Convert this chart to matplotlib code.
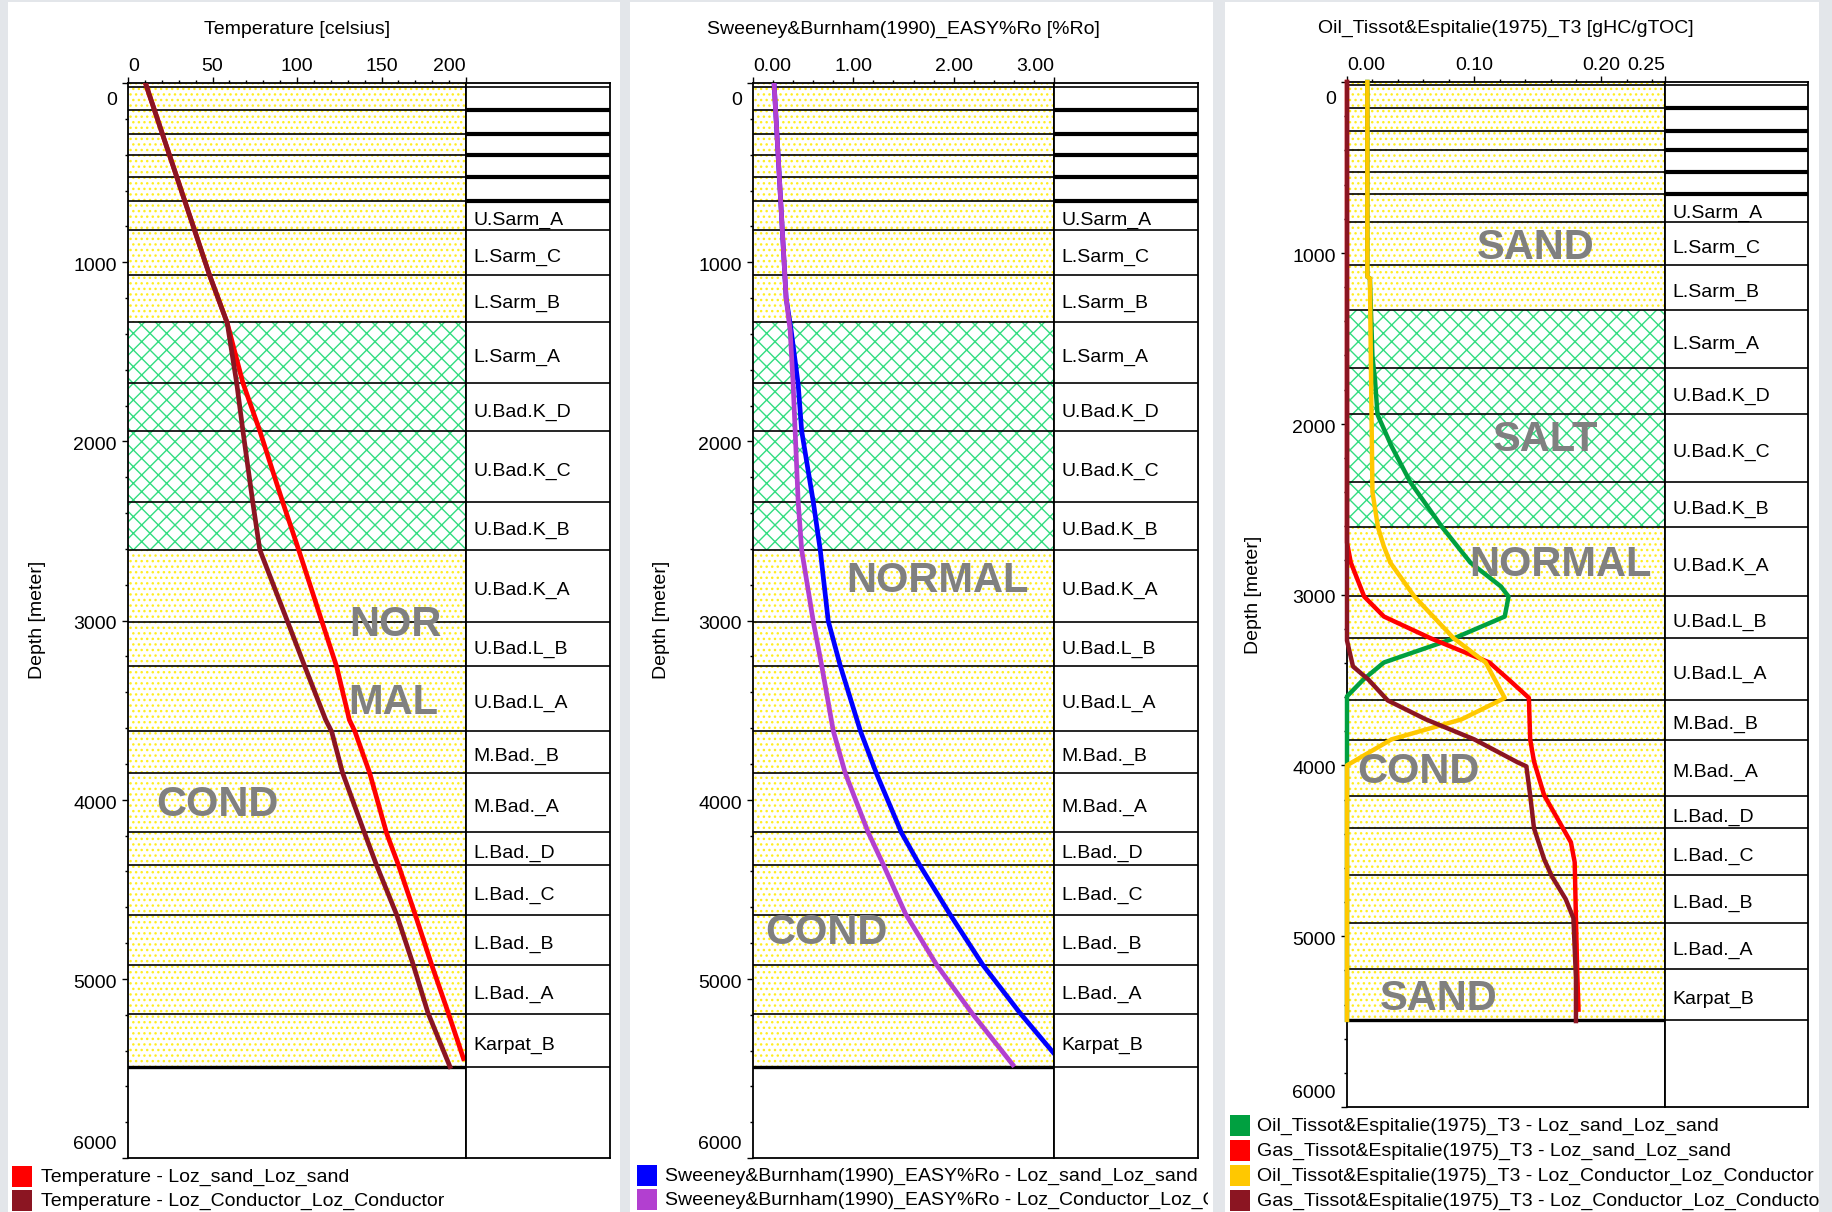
import matplotlib
matplotlib.use('Agg')
import matplotlib.pyplot as plt
from matplotlib.patches import Rectangle
from matplotlib.transforms import Bbox, TransformedBbox

plt.rcParams['font.family'] = ['Liberation Sans', 'DejaVu Sans']
plt.rcParams['hatch.linewidth'] = 1.0

# ---- formations (depth in m) ----
tops = [0, 20, 150, 285, 400, 525, 658, 820, 1071, 1335, 1676, 1945, 2340, 2605,
        3010, 3255, 3618, 3850, 4181, 4366, 4643, 4920, 5195]
base = 5490
names = ['', '', '', '', '', '', 'U.Sarm_A', 'L.Sarm_C', 'L.Sarm_B', 'L.Sarm_A',
         'U.Bad.K_D', 'U.Bad.K_C', 'U.Bad.K_B', 'U.Bad.K_A', 'U.Bad.L_B', 'U.Bad.L_A',
         'M.Bad._B', 'M.Bad._A', 'L.Bad._D', 'L.Bad._C', 'L.Bad._B', 'L.Bad._A', 'Karpat_B']
salt_top, salt_base = 1335, 2605
depth_ticks = [0, 1000, 2000, 3000, 4000, 5000, 6000]

# ---- temperature ----
temp_depth_sand = [0, 1071, 1339, 1674, 1942, 2338, 2606, 3013, 3259, 3555, 3620, 3851,
                   4187, 4364, 4643, 4922, 5190, 5445]
temp_sand = [10.3, 48.2, 58.7, 68, 78, 91.5, 101, 115, 123.5, 131, 134.3, 143,
             153, 160, 170, 179.7, 189.5, 198.5]
temp_depth_cond = [0, 1071, 1339, 1674, 1942, 2338, 2606, 3013, 3259, 3555, 3620, 3851,
                   4187, 4364, 4643, 4922, 5190, 5490]
temp_cond = [10.3, 48.2, 58.7, 64.3, 68, 73.8, 78, 94.7, 104.7, 117, 120.5, 127,
             140, 147, 159, 168.8, 177.5, 190.5]

# ---- vitrinite reflectance ----
ro_depth_sand = [0, 400, 800, 1200, 1380, 1680, 1942, 2335, 2606, 3003, 3253, 3616,
                 3853, 4185, 4364, 4637, 4922, 5190, 5410]
ro_sand = [0.21, 0.25, 0.29, 0.33, 0.38, 0.45, 0.485, 0.60, 0.67, 0.75, 0.87, 1.07,
           1.23, 1.48, 1.66, 1.96, 2.29, 2.66, 2.99]
ro_depth_cond = [0, 400, 800, 1200, 1380, 1680, 1942, 2335, 2606, 3003, 3253, 3616,
                 3853, 4185, 4364, 4637, 4922, 5190, 5480]
ro_cond = [0.21, 0.25, 0.29, 0.33, 0.37, 0.40, 0.42, 0.45, 0.485, 0.60, 0.685, 0.80,
           0.92, 1.15, 1.30, 1.52, 1.83, 2.18, 2.59]

# ---- transformation ratios ----
oil_sand_depth = [0, 1140, 1150, 1606, 1743, 1947, 2132, 2345, 2608, 2813, 2953, 3012,
                  3129, 3257, 3398, 3497, 3596, 5490]
oil_sand = [0.016, 0.016, 0.018, 0.020, 0.022, 0.024, 0.035, 0.050, 0.075, 0.097, 0.121,
            0.127, 0.124, 0.084, 0.029, 0.013, 0.0, 0.0]
gas_sand_depth = [0, 2696, 2813, 3012, 3129, 3257, 3398, 3497, 3605, 3848, 3977, 4175,
                  4450, 4567, 4900, 5211, 5430]
gas_sand = [0, 0, 0.003, 0.0135, 0.029, 0.066, 0.112, 0.127, 0.143, 0.144, 0.147, 0.155,
            0.176, 0.179, 0.180, 0.181, 0.182]
oil_cond_depth = [0, 1140, 1150, 2400, 2608, 2719, 2813, 3012, 3257, 3398, 3606, 3731,
                  3848, 4000, 5490]
oil_cond = [0.016, 0.016, 0.018, 0.020, 0.0244, 0.029, 0.034, 0.053, 0.084, 0.109, 0.124,
            0.090, 0.035, 0.0, 0.0]
gas_cond_depth = [0, 3270, 3421, 3497, 3620, 3731, 3848, 3982, 4006, 4175, 4368, 4550,
                  4649, 4784, 4895, 5248, 5497]
gas_cond = [0, 0, 0.0047, 0.0167, 0.032, 0.062, 0.100, 0.134, 0.141, 0.144, 0.147, 0.155,
            0.161, 0.172, 0.178, 0.180, 0.180]

RED, DARK = '#ff0000', '#8b1522'
BLUE, PURPLE = '#0000ff', '#b23fd0'
GREEN, YELLOW = '#00a040', '#ffc800'
GREY = '#808080'

W, H = 1832, 1212
fig = plt.figure(figsize=(W / 100, H / 100), dpi=100, facecolor='#e3e6ea')


def fx(x):
    return x / W


def fy(y):
    return 1 - y / H


# white panel backgrounds
for x0, x1 in [(8, 620), (630, 1213), (1225, 1819)]:
    fig.add_artist(Rectangle((fx(x0), 0), (x1 - x0) / W, fy(2), transform=fig.transFigure,
                             facecolor='white', edgecolor='none', zorder=-5))


def make_panel(x0, x1, x2, top, bot, xmax, xticks, xlabels, xminor, title):
    ax = fig.add_axes([fx(x0), fy(bot), (x1 - x0) / W, (bot - top) / H])
    fm = fig.add_axes([fx(x1), fy(bot), (x2 - x1) / W, (bot - top) / H])
    for a in (ax, fm):
        a.set_ylim(6000, 0)
        for s in a.spines.values():
            s.set_linewidth(1.3)
    ax.set_xlim(0, xmax)
    fm.set_xlim(0, 1)
    fm.set_xticks([])
    fm.set_yticks([])

    # lithology fill
    dots = dict(facecolor='white', edgecolor='#ffee22', hatch='...', lw=0, zorder=0)
    ax.axhspan(0, salt_top, **dots)
    ax.axhspan(salt_top, salt_base, facecolor='white', edgecolor='#33dd80', hatch='xx', lw=0, zorder=0)
    ax.axhspan(salt_base, base, **dots)

    # formation boundaries
    for i, d in enumerate(tops[1:] + [base]):
        ax.axhline(d, color='black', lw=2.4 if d == base else 1.2, zorder=1)
        thick = 2 <= i + 1 <= 6
        fm.axhline(d, color='black', lw=3.0 if thick else 1.2, zorder=1)
    for i, n in enumerate(names):
        if n:
            bottom = tops[i + 1] if i + 1 < len(tops) else base
            fm.annotate(n, xy=(0, (tops[i] + bottom) / 2), xytext=(5.5, -3.5),
                        textcoords='offset points', fontsize=14, ha='left', va='center')

    ax.xaxis.tick_top()
    ax.set_xticks(xticks, xlabels)
    ax.set_xticks(xminor, minor=True)
    ax.set_yticks(depth_ticks)
    ax.set_yticks(range(0, 6001, 200), minor=True)
    ax.tick_params(which='major', length=4, width=1, labelsize=14, pad=1.6, direction='out')
    ax.tick_params(which='minor', length=2, width=1, direction='out')
    ax.tick_params(axis='y', labelleft=False)
    xl = ax.get_xticklabels()
    xl[0].set_ha('left')
    xl[-1].set_ha('right')
    # depth labels: the end labels are pulled inside the axis
    for v in depth_ticks:
        dy = -12.6 if v == depth_ticks[0] else (10 if v == depth_ticks[-1] else -3.2)
        ax.annotate(str(v), xy=(0, v), xycoords=('axes fraction', 'data'), xytext=(-8, dy),
                    textcoords='offset points', fontsize=14, ha='right', va='center')
    ax.set_title(title, fontsize=14, pad=35.6)
    return ax, fm


def legend(x_sq, x_txt, rows, entries, clip_x1):
    clip = TransformedBbox(Bbox.from_extents(0, 0, fx(clip_x1), 1), fig.transFigure)
    for y, (col, lab) in zip(rows, entries):
        fig.add_artist(Rectangle((fx(x_sq), fy(y + 10)), 20 / W, 21 / H, transform=fig.transFigure,
                                 facecolor=col, edgecolor='none'))
        t = fig.text(fx(x_txt), fy(y), lab, fontsize=14, ha='left', va='center')
        t.set_clip_box(clip)
        t.set_clip_on(True)


# ---- panel 1: temperature ----
ax1, fm1 = make_panel(128, 466, 610, 83, 1158, 200, [0, 50, 100, 150, 200],
                      ['0', '50', '100', '150', '200'], range(0, 201, 10),
                      'Temperature [celsius]')
ax1.plot(temp_sand, temp_depth_sand, color=RED, lw=3.4, zorder=3)
ax1.plot(temp_cond, temp_depth_cond, color=DARK, lw=3.4, zorder=3)
for s, x, d in [('NOR', 158, 3025), ('MAL', 156.8, 3460), ('COND', 53, 4029)]:
    ax1.text(x, d, s, fontsize=30, fontweight='bold', color=GREY, ha='center', va='center', zorder=4)
fig.text(fx(38), fy(620), 'Depth [meter]', rotation=90, fontsize=14, ha='center', va='center')
legend(12, 41, [1177, 1201],
       [(RED, 'Temperature - Loz_sand_Loz_sand'),
        (DARK, 'Temperature - Loz_Conductor_Loz_Conductor')], 620)

# ---- panel 2: EASY%Ro ----
ax2, fm2 = make_panel(753, 1054, 1198, 83, 1158, 3.0, [0, 1, 2, 3],
                      ['0.00', '1.00', '2.00', '3.00'], [i * 0.2 for i in range(16)],
                      'Sweeney&Burnham(1990)_EASY%Ro [%Ro]')
ax2.plot(ro_sand, ro_depth_sand, color=BLUE, lw=3.4, zorder=3)
ax2.plot(ro_cond, ro_depth_cond, color=PURPLE, lw=3.4, zorder=3)
for s, x, d in [('NORMAL', 1.835, 2782), ('COND', 0.73, 4742)]:
    ax2.text(x, d, s, fontsize=30, fontweight='bold', color=GREY, ha='center', va='center', zorder=4)
fig.text(fx(662), fy(620), 'Depth [meter]', rotation=90, fontsize=14, ha='center', va='center')
legend(637, 665, [1176, 1200],
       [(BLUE, 'Sweeney&Burnham(1990)_EASY%Ro - Loz_sand_Loz_sand'),
        (PURPLE, 'Sweeney&Burnham(1990)_EASY%Ro - Loz_Conductor_Loz_Conductor')], 1208)

# ---- panel 3: Tissot & Espitalie ----
ax3, fm3 = make_panel(1347, 1665, 1808, 82, 1107, 0.25, [0, 0.1, 0.2, 0.25],
                      ['0.00', '0.10', '0.20', '0.25'], [i * 0.02 for i in range(13)],
                      'Oil_Tissot&Espitalie(1975)_T3 [gHC/gTOC]')
ax3.plot(oil_sand, oil_sand_depth, color=GREEN, lw=3.2, zorder=3, clip_on=False)
ax3.plot(gas_sand, gas_sand_depth, color=RED, lw=3.2, zorder=3, clip_on=False)
ax3.plot(oil_cond, oil_cond_depth, color=YELLOW, lw=3.2, zorder=3, clip_on=False)
ax3.plot(gas_cond, gas_cond_depth, color=DARK, lw=3.2, zorder=3, clip_on=False)
for s, x, d in [('SAND', 0.148, 971), ('SALT', 0.156, 2094), ('NORMAL', 0.168, 2825),
                ('COND', 0.056, 4041), ('SAND', 0.072, 5368)]:
    ax3.text(x, d, s, fontsize=30, fontweight='bold', color=GREY, ha='center', va='center', zorder=4)
fig.text(fx(1254), fy(595), 'Depth [meter]', rotation=90, fontsize=14, ha='center', va='center')
legend(1230, 1257, [1126, 1151, 1176, 1201],
       [(GREEN, 'Oil_Tissot&Espitalie(1975)_T3 - Loz_sand_Loz_sand'),
        (RED, 'Gas_Tissot&Espitalie(1975)_T3 - Loz_sand_Loz_sand'),
        (YELLOW, 'Oil_Tissot&Espitalie(1975)_T3 - Loz_Conductor_Loz_Conductor'),
        (DARK, 'Gas_Tissot&Espitalie(1975)_T3 - Loz_Conductor_Loz_Conductor')], 1819)

fig.savefig('out.png', dpi=100, facecolor=fig.get_facecolor())
